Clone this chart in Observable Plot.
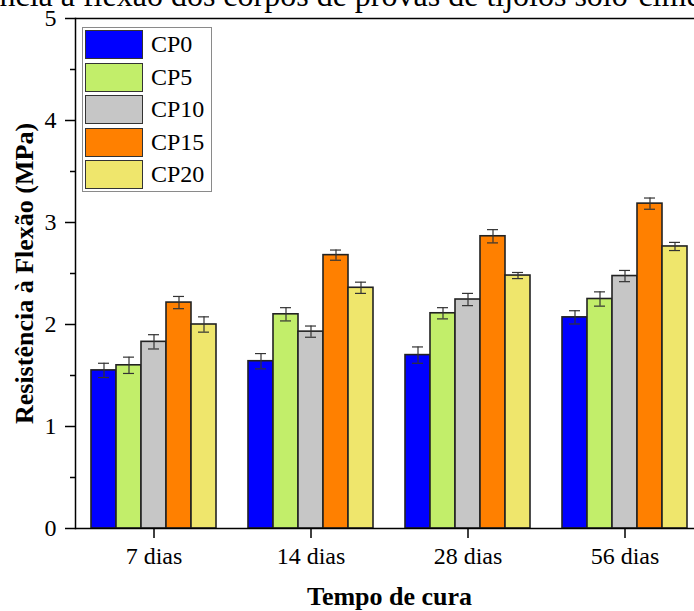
<!DOCTYPE html>
<html>
<head>
<meta charset="utf-8">
<script src="https://cdn.jsdelivr.net/npm/d3@7"></script>
<script src="https://cdn.jsdelivr.net/npm/@observablehq/plot@0.6"></script>
<style>
  html, body { margin: 0; padding: 0; background: #fff; overflow: hidden; width: 694px; height: 611px; }
  #wrap { position: relative; width: 694px; height: 611px; overflow: hidden; }
  #title { position: absolute; left: -93px; top: -21px; font: 32px/32px "Liberation Serif", serif; white-space: nowrap; color: #000; }
  #chart { position: absolute; left: 0; top: 0; width: 720px; height: 611px; }
  #legend { position: absolute; left: 82px; top: 27px; width: 128px; height: 163px; border: 1.5px solid #8a8a8a; background: #fff; box-sizing: content-box; }
  .item { position: absolute; left: 2px; height: 29px; display: flex; align-items: center; }
  .sw { width: 56px; height: 27px; border: 1.5px solid #333; }
  .lab { margin-left: 8px; font: 24px "Liberation Serif", serif; color: #000; }
  g[aria-label="y-axis label"] text, g[aria-label="fx-axis label"] text { font-weight: bold; font-size: 26px; }
</style>
</head>
<body>
<div id="wrap">
  <div id="title">Resistência à flexão dos corpos de provas de tijolos solo-cimento</div>
  <div id="chart"></div>
  <div id="legend"></div>
</div>
<script>
const groups = ["7 dias", "14 dias", "28 dias", "56 dias"];
const series = ["CP0", "CP5", "CP10", "CP15", "CP20"];
const colors = ["#0000ff", "#c2ee6a", "#c6c6c6", "#ff8000", "#efe66c"];

const CP0  = [1.55, 1.64, 1.70, 2.07];
const CP5  = [1.60, 2.10, 2.11, 2.25];
const CP10 = [1.83, 1.93, 2.245, 2.475];
const CP15 = [2.215, 2.68, 2.865, 3.185];
const CP20 = [2.00, 2.36, 2.48, 2.765];

const errCP0  = [0.07, 0.075, 0.08, 0.065];
const errCP5  = [0.08, 0.065, 0.055, 0.07];
const errCP10 = [0.07, 0.055, 0.06, 0.055];
const errCP15 = [0.06, 0.05, 0.065, 0.055];
const errCP20 = [0.075, 0.055, 0.03, 0.04];

const yTicks = [0, 1, 2, 3, 4, 5];
const yMinor = [0.5, 1.5, 2.5, 3.5, 4.5];

const means = {CP0, CP5, CP10, CP15, CP20};
const errs = {CP0: errCP0, CP5: errCP5, CP10: errCP10, CP15: errCP15, CP20: errCP20};

const data = [];
groups.forEach((g, i) => {
  series.forEach(s => {
    data.push({group: g, series: s, value: means[s][i], lo: means[s][i] - errs[s][i], hi: means[s][i] + errs[s][i]});
  });
});

const chart = Plot.plot({
  width: 720,
  height: 611,
  marginLeft: 73,
  marginRight: 16,
  marginTop: 18,
  marginBottom: 83,
  style: {fontFamily: "'Liberation Serif', serif", fontSize: "24px", color: "#000", background: "transparent", overflow: "visible", maxWidth: "none"},
  fx: {domain: groups, padding: 0, label: "Tempo de cura"},
  x: {domain: series, paddingInner: 0, paddingOuter: 0.588, axis: null},
  y: {domain: [0, 5], label: "Resistência à Flexão (MPa)"},
  color: {domain: series, range: colors},
  marks: [
    Plot.barY(data, {fx: "group", x: "series", y: "value", fill: "series", stroke: "#222", strokeWidth: 1.6}),
    Plot.ruleX(data, {fx: "group", x: "series", y1: "lo", y2: "hi", stroke: "#333", strokeWidth: 1.2}),
    Plot.tickY(data, {fx: "group", x: "series", y: "lo", stroke: "#333", strokeWidth: 1.2, insetLeft: 7, insetRight: 7}),
    Plot.tickY(data, {fx: "group", x: "series", y: "hi", stroke: "#333", strokeWidth: 1.2, insetLeft: 7, insetRight: 7}),
    Plot.ruleY([0, 5], {stroke: "#000", strokeWidth: 1.5}),
    Plot.frame({anchor: "left", facetAnchor: "left", stroke: "#000", strokeWidth: 1.5}),
    Plot.axisY(yMinor, {tickSize: 5, text: null, label: null, strokeWidth: 1.5}),
    Plot.axisY(yTicks, {tickSize: 10, tickPadding: 9, fontSize: 24, strokeWidth: 1.5, tickFormat: d => String(d), label: "Resistência à Flexão (MPa)", labelAnchor: "center", labelOffset: 61, labelArrow: "none"}),
    Plot.axisFx({anchor: "bottom", tickSize: 10, tickPadding: 8, fontSize: 24, strokeWidth: 1.5, label: "Tempo de cura", labelAnchor: "center", labelOffset: 76, labelArrow: "none"})
  ]
});
document.getElementById("chart").appendChild(chart);

const legend = document.getElementById("legend");
series.forEach((s, i) => {
  const item = document.createElement("div");
  item.className = "item";
  item.style.top = (2 + i * 32.5) + "px";
  const sw = document.createElement("div");
  sw.className = "sw";
  sw.style.background = colors[i];
  const lab = document.createElement("span");
  lab.className = "lab";
  lab.textContent = s;
  item.appendChild(sw);
  item.appendChild(lab);
  legend.appendChild(item);
});
</script>
</body>
</html>
